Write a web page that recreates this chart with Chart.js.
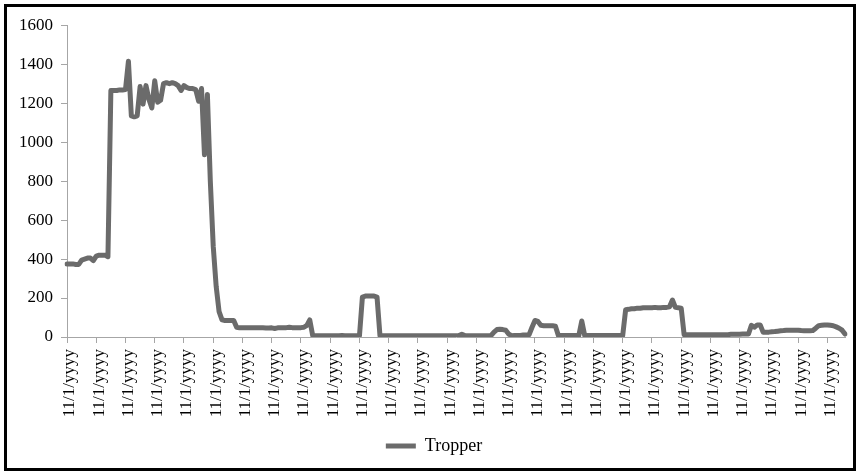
<!DOCTYPE html>
<html><head><meta charset="utf-8">
<script src="https://cdn.jsdelivr.net/npm/chart.js@4.4.0/dist/chart.umd.min.js"></script>
<style>
html,body{margin:0;padding:0;background:#fff;}
#frame{position:absolute;left:4px;top:4px;width:846px;height:461px;border:3px solid #000;background:#fff;}
</style></head><body>
<div id="frame"><canvas id="c" width="846" height="461"></canvas></div>
<script>
const tickLabel = '11/1/yyyy';
const categories = Array.from({length: 267}, () => tickLabel);
const seriesName = 'Tropper';
const tropper = [
  375,375,375,372,372,395,400,405,405,392,
  415,420,420,420,412,1265,1265,1265,1268,1268,
  1270,1415,1135,1130,1135,1285,1195,1290,1220,1175,
  1315,1205,1215,1300,1305,1300,1305,1300,1290,1265,
  1290,1280,1275,1275,1270,1210,1275,935,1245,800,
  465,260,130,88,85,85,85,85,50,47,
  47,47,47,47,47,47,47,47,46,46,
  47,44,47,47,48,48,50,48,48,48,
  48,50,60,88,8,7,7,6,6,7,
  7,7,7,7,8,7,7,7,7,7,
  8,205,210,210,210,210,205,8,7,7,
  7,7,7,7,7,7,7,7,7,7,
  7,7,7,7,7,7,7,7,7,7,
  7,7,7,7,7,14,7,7,7,7,
  7,7,7,7,7,8,25,38,40,38,
  35,15,7,8,8,8,10,10,12,50,
  85,80,60,58,58,58,58,55,8,8,
  8,8,8,8,8,8,82,8,8,8,
  8,8,8,8,8,8,8,8,8,8,
  8,140,142,145,145,148,148,150,150,150,
  150,152,150,150,152,152,155,190,152,150,
  148,12,12,12,12,12,12,12,12,12,
  12,12,12,12,12,12,12,14,14,14,
  14,15,15,15,60,50,62,62,25,25,
  25,27,28,30,32,33,35,35,35,35,
  35,33,32,32,32,33,45,58,60,62,
  62,60,58,52,45,35,15
];
const yMin = 0, yMax = 1600, yStep = 200;
const labelEvery = 10;

const FONT = {family: "'Liberation Serif','Times New Roman',serif", size: 17};
const LEGEND_FONT = {family: "'Liberation Serif','Times New Roman',serif", size: 18};
const AX = '#a6a6a6';
const LINE = '#6b6b6b';

const shiftLegend = {
  id: 'shiftLegend',
  afterLayout(chart) {
    if (chart.legend) { chart.legend.left += 8; chart.legend.right += 8; }
  }
};

new Chart(document.getElementById('c'), {
  type: 'line',
  data: {
    labels: categories,
    datasets: [{
      label: seriesName,
      data: tropper,
      borderColor: LINE,
      backgroundColor: LINE,
      borderWidth: 5,
      pointRadius: 0,
      pointHoverRadius: 0,
      tension: 0,
      fill: false,
      borderJoinStyle: 'round',
      borderCapStyle: 'round',
      pointStyle: 'line'
    }]
  },
  plugins: [shiftLegend],
  options: {
    responsive: false,
    animation: false,
    layout: {padding: {top: 17, right: 8, left: 0, bottom: 3}},
    plugins: {
      legend: {
        position: 'bottom',
        labels: {usePointStyle: true, pointStyle: 'line', pointStyleWidth: 30, padding: 4, color: '#000', font: LEGEND_FONT}
      },
      tooltip: {enabled: false}
    },
    scales: {
      x: {
        type: 'category',
        grid: {drawOnChartArea: false, tickLength: 6, tickColor: (c) => (c.index % labelEvery === 0 ? AX : 'rgba(0,0,0,0)')},
        border: {color: AX, width: 1},
        ticks: {
          autoSkip: false, maxRotation: 90, minRotation: 90, padding: 6, labelOffset: 3, color: '#000', font: FONT,
          callback: (v, i) => (i % labelEvery === 0 ? categories[i] : '')
        },
        afterFit: (s) => { s.height = 96; s.paddingRight = 0; s.paddingLeft = 0; }
      },
      y: {
        min: yMin, max: yMax,
        grid: {drawOnChartArea: false, tickLength: 6, color: AX},
        border: {color: AX, width: 1},
        ticks: {stepSize: yStep, padding: 8, color: '#000', font: FONT, callback: (v) => String(v)},
        afterFit: (s) => { s.width = 60; }
      }
    }
  }
});
</script>
</body></html>
